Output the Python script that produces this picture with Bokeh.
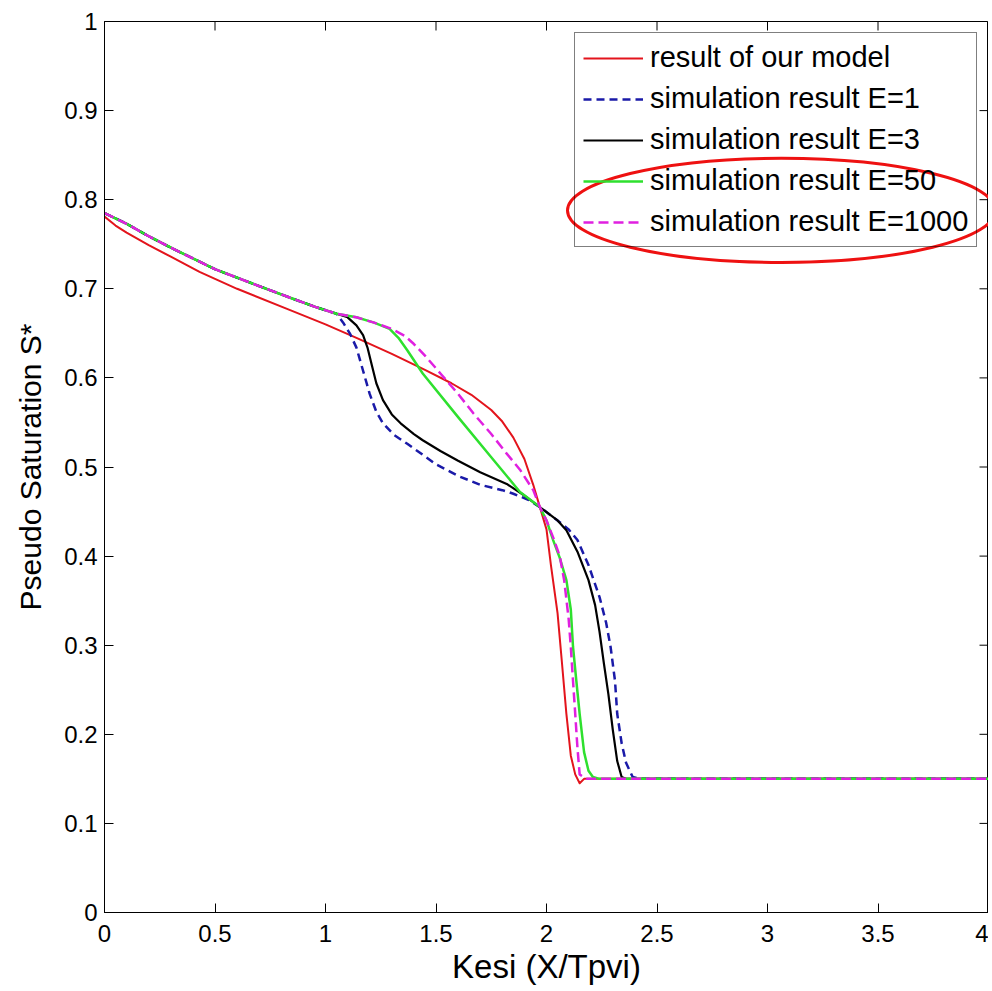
import math
from bokeh.plotting import figure
from bokeh.models import FixedTicker, Range1d
from bokeh.embed import file_html
from bokeh.resources import INLINE

# ---- data ----
x_model = [0.0, 0.05, 0.1, 0.2, 0.3, 0.43, 0.6, 0.84, 1.0, 1.14, 1.3, 1.45, 1.57, 1.66, 1.75, 1.8, 1.85, 1.9, 1.94, 1.97,
           2.0, 2.02, 2.05, 2.07, 2.09, 2.11, 2.13, 2.15, 2.17, 4.0]
y_model = [0.781, 0.771, 0.763, 0.749, 0.736, 0.719, 0.700, 0.676, 0.660, 0.645, 0.627, 0.609, 0.594, 0.581, 0.564, 0.551,
           0.533, 0.509, 0.480, 0.455, 0.430, 0.390, 0.336, 0.280, 0.223, 0.176, 0.155, 0.145, 0.150, 0.150]

x_e1 = [0.0, 0.1, 0.2, 0.31, 0.5, 0.7, 0.84, 0.95, 1.05, 1.08, 1.11, 1.14, 1.17, 1.2, 1.23, 1.26, 1.31, 1.37, 1.45, 1.5,
        1.6, 1.7, 1.8, 1.85, 1.92, 1.97, 2.05, 2.1, 2.14, 2.19, 2.24, 2.27, 2.29, 2.31, 2.32, 2.34, 2.36, 2.39, 2.43, 4.0]
y_e1 = [0.785, 0.773, 0.759, 0.745, 0.722, 0.703, 0.690, 0.680, 0.672, 0.662, 0.650, 0.634, 0.608, 0.582, 0.562, 0.549,
        0.536, 0.526, 0.512, 0.503, 0.490, 0.480, 0.474, 0.470, 0.463, 0.455, 0.440, 0.430, 0.418, 0.390, 0.354, 0.325,
        0.298, 0.260, 0.223, 0.190, 0.168, 0.152, 0.150, 0.150]

x_e3 = [0.0, 0.1, 0.2, 0.31, 0.5, 0.7, 0.84, 0.95, 1.05, 1.1, 1.14, 1.17, 1.19, 1.21, 1.23, 1.26, 1.3, 1.34, 1.4, 1.44,
        1.52, 1.6, 1.7, 1.82, 1.9, 1.97, 2.05, 2.09, 2.14, 2.19, 2.22, 2.24, 2.26, 2.28, 2.3, 2.32, 2.34, 2.36, 4.0]
y_e3 = [0.785, 0.773, 0.759, 0.745, 0.722, 0.703, 0.690, 0.680, 0.672, 0.668, 0.659, 0.648, 0.634, 0.614, 0.594, 0.575,
        0.559, 0.549, 0.537, 0.530, 0.518, 0.507, 0.494, 0.481, 0.468, 0.455, 0.440, 0.429, 0.405, 0.373, 0.345, 0.315,
        0.279, 0.245, 0.205, 0.170, 0.152, 0.150, 0.150]

x_e50 = [0.0, 0.1, 0.2, 0.31, 0.5, 0.7, 0.84, 0.95, 1.05, 1.14, 1.22, 1.29, 1.33, 1.37, 1.44, 1.6, 1.75, 1.88, 1.97,
         2.0, 2.03, 2.06, 2.09, 2.11, 2.12, 2.135, 2.15, 2.17, 2.19, 2.21, 2.24, 4.0]
y_e50 = [0.785, 0.773, 0.759, 0.745, 0.722, 0.703, 0.690, 0.680, 0.672, 0.668, 0.662, 0.655, 0.645, 0.631, 0.605, 0.556,
         0.511, 0.472, 0.455, 0.440, 0.418, 0.398, 0.373, 0.340, 0.298, 0.260, 0.223, 0.180, 0.159, 0.152, 0.150, 0.150]

x_e1000 = [0.0, 0.1, 0.2, 0.31, 0.5, 0.7, 0.84, 0.95, 1.05, 1.14, 1.22, 1.3, 1.36, 1.4, 1.45, 1.52, 1.6, 1.67, 1.75,
           1.82, 1.88, 1.94, 1.97, 2.0, 2.03, 2.06, 2.08, 2.1, 2.11, 2.12, 2.13, 2.14, 2.15, 2.18, 4.0]
y_e1000 = [0.785, 0.773, 0.759, 0.745, 0.722, 0.703, 0.690, 0.680, 0.672, 0.668, 0.662, 0.655, 0.647, 0.638, 0.625,
           0.605, 0.582, 0.560, 0.537, 0.515, 0.497, 0.474, 0.455, 0.440, 0.421, 0.400, 0.373, 0.330, 0.298, 0.260,
           0.223, 0.185, 0.155, 0.150, 0.150]

x_ticks = [0, 0.5, 1, 1.5, 2, 2.5, 3, 3.5, 4]
x_tick_labels = ["0", "0.5", "1", "1.5", "2", "2.5", "3", "3.5", "4"]
y_ticks = [0, 0.1, 0.2, 0.3, 0.4, 0.5, 0.6, 0.7, 0.8, 0.9, 1]
y_tick_labels = ["0", "0.1", "0.2", "0.3", "0.4", "0.5", "0.6", "0.7", "0.8", "0.9", "1"]

# highlight ellipse (annotation) in data units
ell_x, ell_y, ell_w, ell_h = 3.063, 0.788, 1.936, 0.117

FONT = "Liberation Sans"

p = figure(width=988, height=988, output_backend="svg", toolbar_location=None,
           x_range=Range1d(0, 4), y_range=Range1d(0, 1),
           min_border_left=104, min_border_right=0, min_border_top=21, min_border_bottom=76,
           background_fill_color="white", border_fill_color="white")
p.xgrid.visible = False
p.ygrid.visible = False
p.outline_line_color = "black"
p.outline_line_alpha = 1.0
p.outline_line_width = 1

p.line(x_model, y_model, color="#e3141c", line_width=2, line_join="round",
       legend_label="result of our model")
p.line(x_e1, y_e1, color="#1a1aa8", line_width=2.5, line_dash="8 5", line_join="round",
       legend_label="simulation result E=1")
p.line(x_e3, y_e3, color="black", line_width=2.2, line_join="round",
       legend_label="simulation result E=3")
p.line(x_e50, y_e50, color="#2ee02e", line_width=2.5, line_join="round",
       legend_label="simulation result E=50")
p.line(x_e1000, y_e1000, color="#e020e0", line_width=2.5, line_dash="10 5", line_join="round",
       legend_label="simulation result E=1000")

p.ellipse(x=[ell_x], y=[ell_y], width=[ell_w], height=[ell_h], fill_color=None,
          line_color="#ee1111", line_width=3)

# inward tick marks on the top and right edges of the box (half of each dash is clipped by the frame)
p.scatter(x=x_ticks, y=[1] * len(x_ticks), marker="dash", size=18, angle=math.pi / 2,
          line_color="black", line_width=1)
p.scatter(x=[4] * len(y_ticks), y=y_ticks, marker="dash", size=18,
          line_color="black", line_width=1)

for ax, ticks, labels in ((p.xaxis[0], x_ticks, x_tick_labels), (p.yaxis[0], y_ticks, y_tick_labels)):
    ax.ticker = FixedTicker(ticks=ticks)
    ax.major_label_overrides = {t: l for t, l in zip(ticks, labels)}
    ax.minor_tick_line_color = None
    ax.major_tick_in = 9
    ax.major_tick_out = 0
    ax.major_tick_line_color = "black"
    ax.axis_line_color = "black"
    ax.major_label_text_font = FONT
    ax.major_label_text_font_size = "24px"
    ax.major_label_text_color = "black"
    ax.axis_label_text_font = FONT
    ax.axis_label_text_font_style = "normal"
    ax.axis_label_text_color = "black"

p.xaxis[0].axis_label = "Kesi (X/Tpvi)"
p.yaxis[0].axis_label = "Pseudo Saturation S*"
p.xaxis[0].axis_label_text_font_size = "33px"
p.yaxis[0].axis_label_text_font_size = "30px"
p.xaxis[0].major_label_standoff = 12
p.xaxis[0].axis_label_standoff = 3
p.yaxis[0].major_label_standoff = 7
p.yaxis[0].axis_label_standoff = 14

lg = p.legend[0]
lg.location = (470, 665)
lg.margin = 0
lg.padding = 8
lg.spacing = 8
lg.glyph_width = 60
lg.glyph_height = 30
lg.label_height = 30
lg.label_standoff = 7
lg.label_text_font = FONT
lg.label_text_font_size = "29px"
lg.label_text_color = "black"
lg.border_line_color = "black"
lg.border_line_width = 1
lg.background_fill_alpha = 0.0

open("out.html", "w").write(file_html(p, INLINE))
